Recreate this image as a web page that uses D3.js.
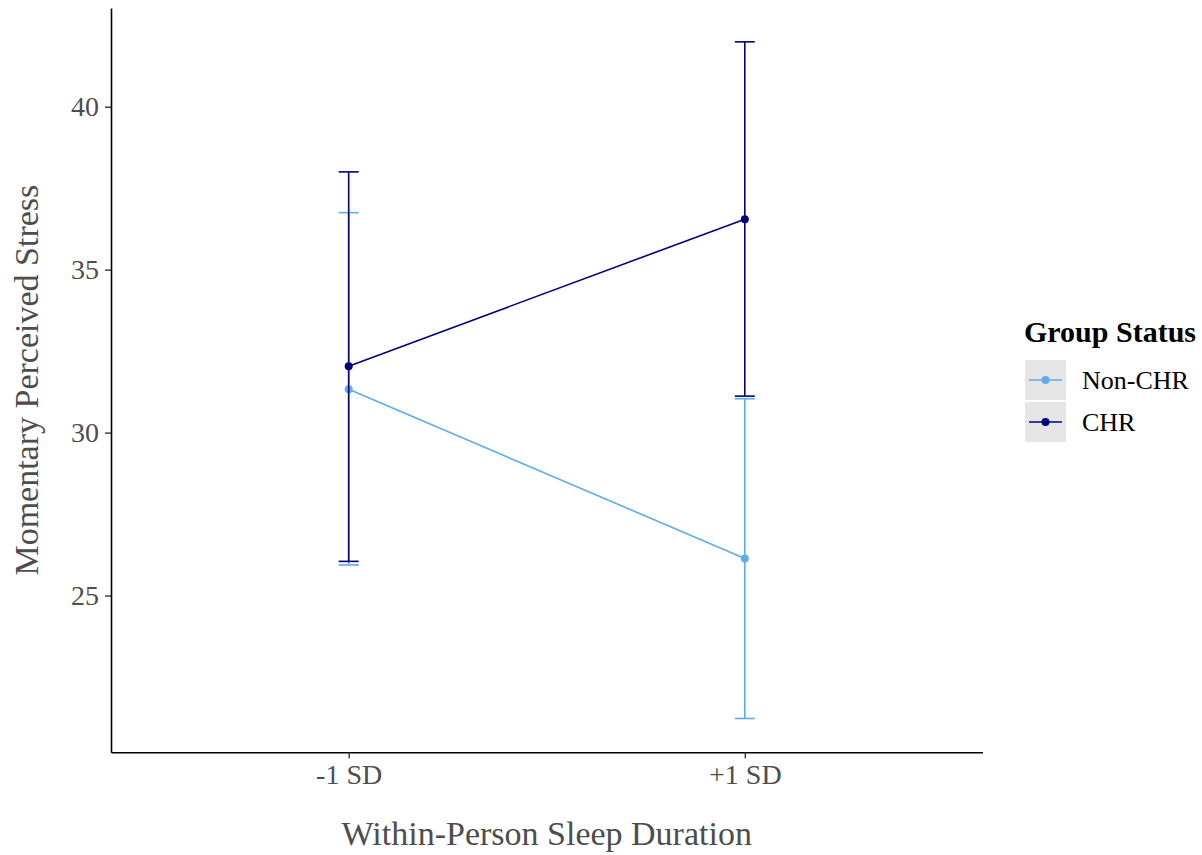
<!DOCTYPE html>
<html><head><meta charset="utf-8">
<script src="https://cdn.jsdelivr.net/npm/d3@7"></script>
<style>body{margin:0;background:#fff;}svg{display:block;font-family:"Liberation Serif","Times New Roman",serif;}</style>
</head><body>
<svg id="chart" width="1202" height="855"></svg>
<script>
const categories = ["-1 SD", "+1 SD"];
const groups = ["Non-CHR", "CHR"];
const groupColors = ["#5CACEE", "#000080"];
const meanNonCHR = [31.33, 26.14];
const lowerNonCHR = [25.94, 21.23];
const upperNonCHR = [36.75, 31.04];
const meanCHR = [32.04, 36.55];
const lowerCHR = [26.05, 31.12];
const upperCHR = [38.00, 41.99];
const yTicks = [25, 30, 35, 40];

const series = [
  {name: groups[0], color: groupColors[0], mean: meanNonCHR, lo: lowerNonCHR, hi: upperNonCHR},
  {name: groups[1], color: groupColors[1], mean: meanCHR, lo: lowerCHR, hi: upperCHR}
];

const svg = d3.select("#chart");
const L = 111, R = 982.5, T = 8, B = 752.3;

const allVals = [...lowerNonCHR, ...upperNonCHR, ...lowerCHR, ...upperCHR];
const ext = d3.extent(allVals);
const pad = (ext[1] - ext[0]) * 0.05;
const y = d3.scaleLinear().domain([ext[0] - pad, ext[1] + pad]).range([B, T]);
const x = d3.scalePoint().domain(categories).range([L, R]).padding(0.6);

// axes
const yAxis = svg.append("g").attr("transform", `translate(${L},0)`)
  .call(d3.axisLeft(y).tickValues(yTicks).tickSize(6).tickPadding(6).tickSizeOuter(0));
const xAxis = svg.append("g").attr("transform", `translate(0,${B})`)
  .call(d3.axisBottom(x).tickSize(6).tickPadding(6).tickSizeOuter(0));
[yAxis, xAxis].forEach(g => {
  g.select(".domain").attr("stroke", "#000").attr("stroke-width", 1.6);
  g.selectAll(".tick line").attr("stroke", "#333").attr("stroke-width", 1.4);
  g.selectAll(".tick text").attr("fill", "#4D4D4D").style("font-size", "28px")
    .style("font-family", '"Liberation Serif",serif');
});

// axis titles
svg.append("text").attr("x", (L + R) / 2).attr("y", 845).attr("text-anchor", "middle")
  .attr("fill", "#4D4D4D").style("font-size", "34px").text("Within-Person Sleep Duration");
svg.append("text").attr("transform", `translate(38,${(T + B) / 2}) rotate(-90)`)
  .attr("text-anchor", "middle").attr("fill", "#4D4D4D").style("font-size", "34px")
  .text("Momentary Perceived Stress");

// series
const capW = 10;
series.forEach(s => {
  const g = svg.append("g");
  categories.forEach((c, i) => {
    const cx = x(c);
    g.append("line").attr("x1", cx).attr("x2", cx).attr("y1", y(s.lo[i])).attr("y2", y(s.hi[i]))
      .attr("stroke", s.color).attr("stroke-width", 1.6);
    [s.lo[i], s.hi[i]].forEach(v => {
      g.append("line").attr("x1", cx - capW).attr("x2", cx + capW).attr("y1", y(v)).attr("y2", y(v))
        .attr("stroke", s.color).attr("stroke-width", 1.6);
    });
  });
  g.append("path").datum(s.mean)
    .attr("d", d3.line().x((d, i) => x(categories[i])).y(d => y(d)))
    .attr("fill", "none").attr("stroke", s.color).attr("stroke-width", 1.6);
  g.selectAll("circle").data(s.mean).join("circle")
    .attr("cx", (d, i) => x(categories[i])).attr("cy", d => y(d)).attr("r", 4).attr("fill", s.color);
});

// legend
const lg = svg.append("g");
lg.append("text").attr("x", 1024).attr("y", 342).attr("fill", "#000")
  .style("font-size", "30px").style("font-weight", "bold").text("Group Status");
series.forEach((s, i) => {
  const ky = 360 + i * 42;
  lg.append("rect").attr("x", 1025).attr("y", ky).attr("width", 41).attr("height", 40).attr("fill", "#E5E5E5");
  lg.append("line").attr("x1", 1029).attr("x2", 1062).attr("y1", ky + 20).attr("y2", ky + 20)
    .attr("stroke", s.color).attr("stroke-width", 1.6);
  lg.append("circle").attr("cx", 1045.5).attr("cy", ky + 20).attr("r", 4).attr("fill", s.color);
  lg.append("text").attr("x", 1082).attr("y", ky + 20).attr("dy", "0.35em").attr("fill", "#000")
    .style("font-size", "26px").text(s.name);
});
</script>
</body></html>
